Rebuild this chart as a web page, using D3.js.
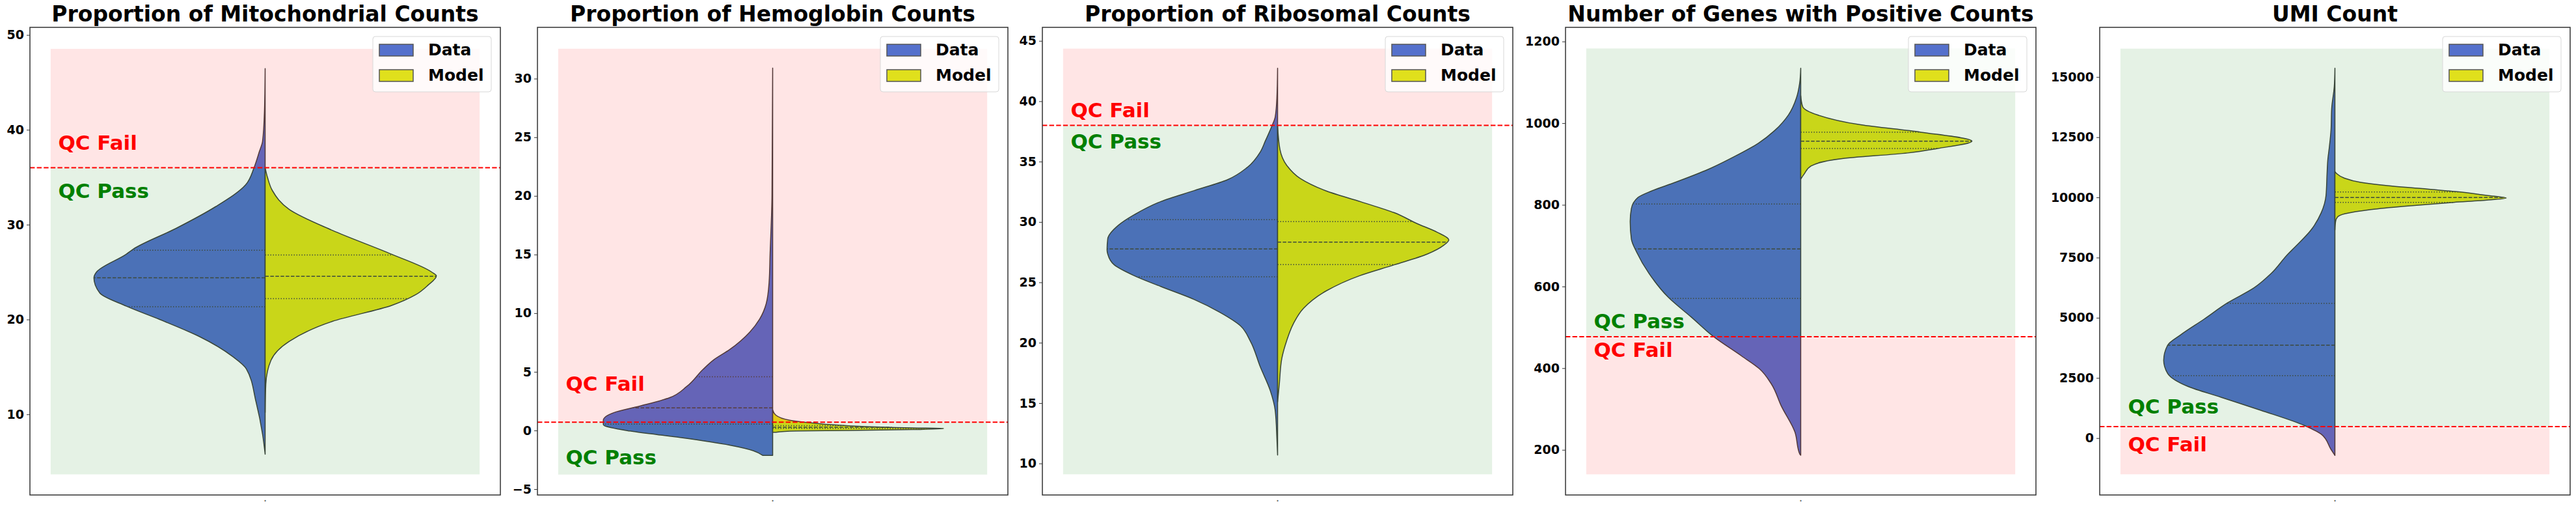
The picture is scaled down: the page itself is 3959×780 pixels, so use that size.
<!DOCTYPE html>
<html lang="en">
<head>
<meta charset="utf-8">
<title>QC violins</title>
<script src="https://d3js.org/d3.v7.min.js"></script>
<style>
  body { margin: 0; background: #fff; }
  text { font-family: "DejaVu Sans", sans-serif; font-weight: bold; }
</style>
</head>
<body>
<div id="chart"></div>
<script>
// ---- data ----
const titles = ["Proportion of Mitochondrial Counts", "Proportion of Hemoglobin Counts",
  "Proportion of Ribosomal Counts", "Number of Genes with Positive Counts", "UMI Count"];
const seriesNames = ["Data", "Model"];
const yDomains = [[1.5, 50.8], [-5.5, 34.37], [7.39, 46.12], [89.5, 1234.6], [-2362, 17064]];
const yTicks = [
  [10, 20, 30, 40, 50],
  [-5, 0, 5, 10, 15, 20, 25, 30],
  [10, 15, 20, 25, 30, 35, 40, 45],
  [200, 400, 600, 800, 1000, 1200],
  [0, 2500, 5000, 7500, 10000, 12500, 15000]
];
const thresholds = [36, 0.7, 38, 477, 480];
const failAbove = [true, true, true, false, false];
const shadeRanges = [[3.67, 48.53], [-3.76, 32.55], [9.1, 44.36], [140, 1183], [-1504, 16180]];
const failLabelAt = [37.87, 3.37, 38.68, 428, -541];
const passLabelAt = [32.8, -2.9, 36.1, 497, 1020];

// violin outlines: [value, relative density]
const dataProfiles = [
  [[46.45,0],[42,0.004],[38.8,0.015],[37.7,0.034],[36,0.065],[34.2,0.114],[31.9,0.289],[29.6,0.521],[27.4,0.772],[26.9,0.81],[25.0,0.985],[24.4,1],[22.8,0.966],[21.4,0.81],[20.0,0.616],[18.2,0.384],[16.1,0.19],[14.8,0.11],[11.3,0.053],[7.9,0.015],[5.8,0]],
  [[30.9,0],[20,0.004],[15.1,0.015],[12.6,0.021],[10.8,0.038],[9.5,0.076],[8.4,0.133],[6.9,0.251],[6.0,0.346],[5.2,0.407],[3.75,0.502],[2.8,0.601],[2.08,0.776],[1.52,0.928],[0.87,0.989],[0.5,0.989],[-0.05,0.833],[-0.6,0.54],[-1.25,0.251],[-1.72,0.114],[-2.13,0.057]],
  [[42.74,0],[40.3,0.004],[38.7,0.014],[37.96,0.033],[36.7,0.072],[35.8,0.101],[34.5,0.179],[33.5,0.293],[32.6,0.487],[31.7,0.681],[30.6,0.837],[29.7,0.932],[28.6,0.992],[27.7,0.996],[27.35,0.992],[26.45,0.954],[25.55,0.837],[24.65,0.681],[23.58,0.487],[22.5,0.335],[21.4,0.217],[20.16,0.16],[18.0,0.101],[16.0,0.042],[14.4,0.014],[12.07,0.004],[10.7,0]],
  [[1134.6,0],[1099,0.006],[1062,0.025],[1020,0.072],[982,0.152],[951,0.247],[919,0.384],[887,0.54],[855,0.734],[834,0.871],[818,0.951],[791,0.989],[759,0.996],[716,0.989],[684,0.958],[632,0.886],[573,0.772],[525,0.639],[477.5,0.51],[430,0.346],[398,0.24],[361,0.171],[307,0.113],[243.7,0.034],[190,0.006],[187,0]],
  [[15368,0],[14594,0.004],[13690,0.019],[12790,0.023],[12068,0.033],[11526,0.042],[10985,0.046],[10084,0.052],[9362,0.08],[8641,0.14],[7919,0.236],[7648,0.274],[6836,0.373],[6250,0.471],[5620,0.627],[4943,0.764],[4312,0.897],[3861,0.977],[3230,1.0],[2689,0.977],[2148,0.859],[1697,0.665],[1156,0.433],[525,0.179],[162,0.08],[-468,0.023],[-720,0]]
];
const modelProfiles = [
  [[36.0,0],[34.9,0.015],[33.6,0.042],[31.6,0.141],[29.4,0.392],[27.0,0.722],[25.0,0.973],[24.6,1],[23.6,0.95],[22.6,0.878],[21.5,0.741],[19.8,0.392],[17.7,0.141],[15.7,0.034],[13.2,0.004],[10.2,0]],
  [[1.75,0],[1.3,0.019],[0.87,0.099],[0.63,0.236],[0.41,0.43],[0.22,0.817],[0.17,1.0],[0.08,0.817],[0.0,0.43],[-0.05,0.137],[-0.15,0.019]],
  [[38,0],[36,0.014],[34.7,0.053],[33.6,0.133],[32.57,0.285],[31.67,0.487],[30.77,0.681],[29.87,0.814],[29.15,0.932],[28.52,1.0],[28.07,0.97],[27.35,0.875],[26.45,0.681],[25.55,0.479],[24.3,0.285],[22.86,0.152],[21.6,0.093],[20.16,0.053],[18.72,0.025],[16.56,0.01],[15.1,0]],
  [[1067,0],[1041,0.011],[1020,0.099],[996,0.35],[978,0.7],[956,1.0],[938,0.8],[927,0.624],[913,0.236],[895,0.06],[876,0.021],[863,0]],
  [[11076,0],[10985,0.011],[10806,0.053],[10625,0.151],[10490,0.306],[10373,0.498],[10237,0.713],[10084,0.887],[9975,1.0],[9885,0.887],[9794,0.694],[9632,0.404],[9497,0.211],[9317,0.057],[9182,0.015],[9001,0.004],[8650,0]]
];
// [q1, median, q3]
const dataQuartiles = [[21.35, 24.4, 27.3], [0.54, 1.93, 4.58], [25.46, 27.77, 30.2], [570.6, 691.8, 801.8], [2597, 3861, 5601]];
const modelQuartiles = [[22.2, 24.55, 26.8], [0.18, 0.28, 0.42], [26.47, 28.33, 30.03], [938, 956, 978], [9795, 9995, 10228]];

// ---- layout ----
const W = 3959, H = 780;
const panelLeft = [46, 826, 1602, 2406, 3227];
const panelW = 723, axTop = 42, axBottom = 760;
const colors = ["#5470cc", "#e0e01c"];
const edge = "#3f3f3f";

const svg = d3.select("#chart").append("svg")
    .attr("width", W).attr("height", H);

function widthAt(profile, v) {
  for (let k = 0; k < profile.length - 1; k++) {
    const a = profile[k], b = profile[k + 1];
    if ((v <= a[0] && v >= b[0])) {
      const t = (a[0] - v) / (a[0] - b[0]);
      return a[1] + t * (b[1] - a[1]);
    }
  }
  return 0;
}

titles.forEach((title, i) => {
  const x = d3.scaleLinear().domain([-0.5, 0.5]).range([panelLeft[i], panelLeft[i] + panelW]);
  const y = d3.scaleLinear().domain(yDomains[i]).range([axBottom, axTop]);
  const w = d3.scaleLinear().domain([0, 1]).range([0, 0.364]);
  const g = svg.append("g");

  // split violins
  [[dataProfiles[i], -1, colors[0], dataQuartiles[i]],
   [modelProfiles[i], 1, colors[1], modelQuartiles[i]]].forEach(([prof, side, col, qs]) => {
    const area = d3.area().curve(d3.curveMonotoneY)
        .y(d => y(d[0]))
        .x0(x(0))
        .x1(d => x(side * w(d[1])));
    g.append("path").attr("d", area(prof))
        .attr("fill", col).attr("stroke", edge).attr("stroke-width", 1.5)
        .attr("stroke-linejoin", "round");
    qs.forEach((q, k) => {
      g.append("line")
          .attr("x1", x(0)).attr("x2", x(side * w(widthAt(prof, q))))
          .attr("y1", y(q)).attr("y2", y(q))
          .attr("stroke", "#444").attr("stroke-width", 1.5)
          .attr("stroke-dasharray", k === 1 ? "5.5,2.4" : "1.5,2.5");
    });
  });

  // pass / fail shading (drawn over the violins)
  const [s0, s1] = shadeRanges[i], th = thresholds[i];
  const failR = failAbove[i] ? [th, s1] : [s0, th];
  const passR = failAbove[i] ? [s0, th] : [th, s1];
  g.append("rect").attr("x", x(-0.456)).attr("width", x(0.456) - x(-0.456))
      .attr("y", y(failR[1])).attr("height", y(failR[0]) - y(failR[1]))
      .attr("fill", "red").attr("fill-opacity", 0.1);
  g.append("rect").attr("x", x(-0.456)).attr("width", x(0.456) - x(-0.456))
      .attr("y", y(passR[1])).attr("height", y(passR[0]) - y(passR[1]))
      .attr("fill", "green").attr("fill-opacity", 0.1);

  g.append("line").attr("x1", x(-0.5)).attr("x2", x(0.5))
      .attr("y1", y(th)).attr("y2", y(th))
      .attr("stroke", "red").attr("stroke-width", 2).attr("stroke-dasharray", "7.4,3.2");

  g.append("text").attr("x", x(-0.44)).attr("y", y(failLabelAt[i]))
      .attr("fill", "red").attr("font-size", 31).text("QC Fail");
  g.append("text").attr("x", x(-0.44)).attr("y", y(passLabelAt[i]))
      .attr("fill", "green").attr("font-size", 31).text("QC Pass");

  // y axis
  const ax = g.append("g").attr("transform", `translate(${x(-0.5)},0)`)
      .call(d3.axisLeft(y).tickValues(yTicks[i]).tickSize(5).tickPadding(4).tickFormat(d3.format("d")));
  ax.select(".domain").remove();
  ax.selectAll(".tick line").attr("stroke", "#333").attr("stroke-width", 1);
  ax.selectAll(".tick text").attr("font-size", 19).attr("font-family", "DejaVu Sans")
      .attr("font-weight", "bold").attr("fill", "#000");

  // tiny x tick label
  g.append("text").attr("x", x(0)).attr("y", axBottom + 10).attr("text-anchor", "middle")
      .attr("font-size", 3).text("0");

  // frame
  g.append("rect").attr("x", x(-0.5)).attr("y", axTop).attr("width", panelW).attr("height", axBottom - axTop)
      .attr("fill", "none").attr("stroke", "#333").attr("stroke-width", 1.5);

  g.append("text").attr("x", x(0)).attr("y", 33).attr("text-anchor", "middle")
      .attr("font-size", 33).attr("fill", "#000").text(title);

  // legend
  const lx = x(0.5) - 196, ly = 56;
  const leg = g.append("g").attr("transform", `translate(${lx},${ly})`);
  leg.append("rect").attr("width", 182).attr("height", 85).attr("rx", 4)
      .attr("fill", "#fff").attr("fill-opacity", 0.8).attr("stroke", "#d8d8d8").attr("stroke-width", 1);
  seriesNames.forEach((n, k) => {
    leg.append("rect").attr("x", 10).attr("y", 12 + k * 39).attr("width", 52).attr("height", 18)
        .attr("fill", colors[k]).attr("stroke", "#555").attr("stroke-width", 1.5);
    leg.append("text").attr("x", 85).attr("y", 29 + k * 39).attr("font-size", 25)
        .attr("fill", "#000").text(n);
  });
});
</script>
</body>
</html>
